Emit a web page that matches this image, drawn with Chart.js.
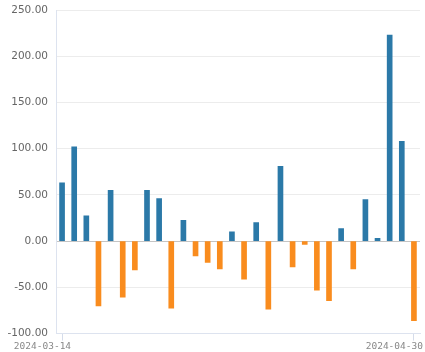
<!DOCTYPE html>
<html>
<head>
<meta charset="utf-8">
<script src="https://cdn.jsdelivr.net/npm/chart.js@4/dist/chart.umd.min.js"></script>
<style>
  html, body { margin: 0; padding: 0; background: #fff; }
  #wrap { width: 425px; height: 352px; }
</style>
</head>
<body>
<div id="wrap"><canvas id="myChart"></canvas></div>
<script>
// DATA
const dates = [
  "2024-03-14", "2024-03-15", "2024-03-18", "2024-03-19", "2024-03-20",
  "2024-03-21", "2024-03-22", "2024-03-25", "2024-03-26", "2024-03-27",
  "2024-03-28", "2024-04-01", "2024-04-02", "2024-04-03", "2024-04-08",
  "2024-04-09", "2024-04-10", "2024-04-11", "2024-04-12", "2024-04-15",
  "2024-04-16", "2024-04-17", "2024-04-18", "2024-04-19", "2024-04-22",
  "2024-04-23", "2024-04-24", "2024-04-25", "2024-04-29", "2024-04-30"
];
const values = [
  63, 102, 27.5, -70, 55, -60.5, -31, 55, 46, -72.5,
  22.5, -16, -23, -30, 10, -41, 20, -73.5, 81, -28,
  -3.5, -53, -64.5, 13.5, -30, 45, 3, 223, 108, -86
];
const yTicks = [-100, -50, 0, 50, 100, 150, 200, 250];

const upColor = "#2b79a8";
const downColor = "#f98c1e";

//CHART
const ctx = document.getElementById("myChart").getContext("2d");
const lastIndex = dates.length - 1;

new Chart(ctx, {
  type: "bar",
  data: {
    labels: dates,
    datasets: [
      {
        data: values,
        backgroundColor: values.map((v) => (v >= 0 ? upColor : downColor)),
        barThickness: 5,
      },
    ],
  },
  options: {
    responsive: true,
    maintainAspectRatio: false,
    animation: false,
    layout: { padding: { top: 10, right: 5, left: 0, bottom: 0 } },
    plugins: {
      legend: { display: false },
      tooltip: { enabled: false },
    },
    scales: {
      x: {
        offset: true,
        grid: {
          offset: false,
          drawOnChartArea: false,
          tickLength: 7,
          color: (c) =>
            c.index === 0 || c.index === lastIndex ? "#d5dcea" : "rgba(0,0,0,0)",
        },
        border: { color: "#dde3ef" },
        ticks: {
          autoSkip: false,
          maxRotation: 0,
          align: "end",
          labelOffset: 9,
          padding: 0,
          color: "#888",
          font: { family: "DejaVu Sans Mono", size: 9.5 },
          callback: function (v, i) {
            return i === 0 || i === lastIndex ? dates[i] : "";
          },
        },
      },
      y: {
        min: yTicks[0],
        max: yTicks[yTicks.length - 1],
        afterBuildTicks: (axis) => {
          axis.ticks = yTicks.map((v) => ({ value: v }));
        },
        afterFit: (axis) => {
          axis.width = 56;
          axis.paddingTop = 0;
          axis.paddingBottom = 0;
        },
        grid: {
          drawTicks: false,
          color: (c) => (c.tick && c.tick.value === 0 ? "#c4c4c4" : "#ececec"),
        },
        border: { color: "#dde3ef" },
        ticks: {
          padding: 8,
          color: "#666",
          font: { family: "DejaVu Sans", size: 10.5 },
          callback: (v) => Number(v).toFixed(2),
        },
      },
    },
  },
});
</script>
</body>
</html>
